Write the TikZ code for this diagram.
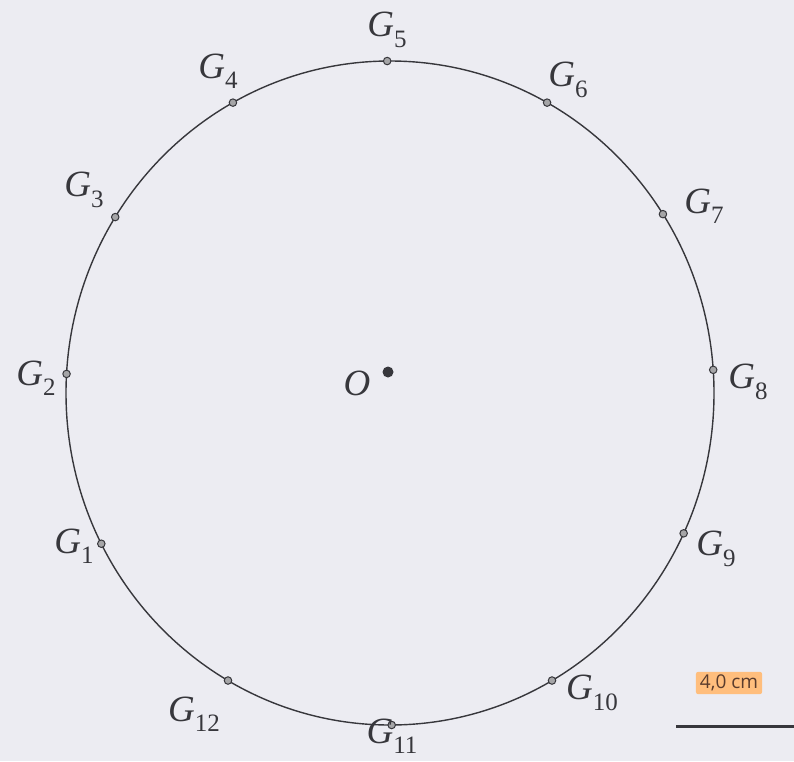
\documentclass[tikz,border=0pt]{standalone}
\usepackage{fontspec}
\usetikzlibrary{calc}
\definecolor{bg}{RGB}{236,236,242}
\definecolor{ink}{RGB}{55,55,60}
\definecolor{tag}{RGB}{255,190,125}
\definecolor{tagtext}{RGB}{90,60,45}
\newfontfamily\tagfont{Open Sans}
\newfontfamily\lblfont{Liberation Serif}
\newcommand{\gl}[1]{{\lblfont\fontsize{37}{42}\selectfont\itshape G\/\upshape\raisebox{-0.28em}{\fontsize{25}{28}\selectfont #1}}}
\tikzset{
  pt/.style={circle,draw=ink,fill=ink!45,line width=1pt,inner sep=0pt,minimum size=7.5pt},
  lbl/.style={text=ink,inner sep=0pt},
  rim/.style={draw=ink,line width=1.4pt}
}
\begin{document}
\begin{tikzpicture}[x=1pt,y=-1pt]
\fill[bg] (0,0) rectangle (794,761);
\useasboundingbox (0,0) rectangle (794,761);
\coordinate (ctr) at (390,393);
\draw[rim] (ctr) ellipse [x radius=324, y radius=332];
% points on the circle
\foreach \i/\a in {1/-153,2/176.7,3/148,4/119,5/90.5,6/61,7/32.6,8/4,9/-25,10/-60,11/-89.7,12/-120}
  \node[pt] (g\i) at ($(ctr)+({324*cos(\a)},{-332*sin(\a)})$) {};
% centre
\node[circle,fill=ink,inner sep=0pt,minimum size=11pt] (o) at (388,372) {};
\node[lbl] (lo) at (357,383) {\lblfont\fontsize{37}{42}\selectfont\itshape O};
% labels
\node[lbl] (l1) at (74,546) {\gl{1}};
\node[lbl] (l2) at (36,378) {\gl{2}};
\node[lbl] (l3) at (84,190) {\gl{3}};
\node[lbl] (l4) at (218,71) {\gl{4}};
\node[lbl] (l5) at (387,30) {\gl{5}};
\node[lbl] (l6) at (568,80) {\gl{6}};
\node[lbl] (l7) at (704,206) {\gl{7}};
\node[lbl] (l8) at (748,382) {\gl{8}};
\node[lbl] (l9) at (716,549) {\gl{9}};
\node[lbl] (l10) at (592,693) {\gl{10}};
\node[lbl] (l11) at (392,736) {\gl{11}};
\node[lbl] (l12) at (194,714) {\gl{12}};
% scale bar
\coordinate (sa) at (676,726);
\coordinate (sb) at (794,726);
\draw[ink,line width=3pt] (sa) -- (sb);
\node[fill=tag,rounded corners=2pt,text=tagtext,font=\tagfont\fontsize{19}{22}\selectfont,inner xsep=4pt,inner ysep=3pt] (scale) at (729,683) {4,0 cm};
\end{tikzpicture}
\end{document}
